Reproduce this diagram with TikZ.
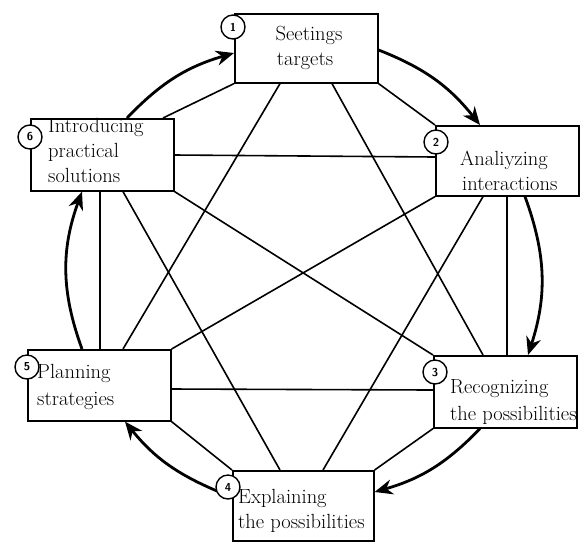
\documentclass[tikz,border=0pt]{standalone}
\usetikzlibrary{arrows.meta}
\begin{document}
\begin{tikzpicture}[x=1pt,y=-1pt,
 box/.style={draw, line width=1.6pt, fill=white, inner sep=0pt, anchor=north west},
 lbl/.style={inner sep=0pt, anchor=base west, font=\fontsize{20.5}{25}\selectfont},
 lblc/.style={lbl, anchor=base},
 conn/.style={line width=1.6pt},
 flow/.style={line width=2.8pt, -{Stealth[length=18pt,width=15pt]}},
 num/.style={circle, draw, line width=1.4pt, fill=white, minimum size=24pt, inner sep=0pt, font=\sffamily\bfseries\fontsize{11.5}{11.5}\selectfont}]
\useasboundingbox (0,0) rectangle (588,542);

% boxes
\node[box, minimum width=143pt, minimum height=69pt] (b1) at (234,13) {};
\node[box, minimum width=143pt, minimum height=70pt] (b2) at (435,125) {};
\node[box, minimum width=143pt, minimum height=72pt] (b3) at (433,355) {};
\node[box, minimum width=141pt, minimum height=70pt] (b4) at (232,470) {};
\node[box, minimum width=143pt, minimum height=71pt] (b5) at (27,349) {};
\node[box, minimum width=143pt, minimum height=72pt] (b6) at (30,118) {};

% start of the 4 -> 5 arrow, on the rim of circle 4
\coordinate (p4) at (217,491);

% connectors
\draw[conn] (b1.south west) -- ([xshift=133pt]b6.north west);
\draw[conn] ([xshift=46pt]b1.south west) -- ([xshift=96pt]b5.north west);
\draw[conn] ([xshift=98pt]b1.south west) -- ([xshift=50pt]b3.north west);
\draw[conn] (b1.south east) -- (b2.north west);
\draw[conn] ([yshift=-37pt]b6.north east) -- ([yshift=-32pt]b2.north west);
\draw[conn] ([xshift=72pt]b2.south west) -- ([xshift=74pt]b3.north west);
\draw[conn] ([xshift=48pt]b2.south west) -- ([xshift=91pt]b4.north west);
\draw[conn] (b2.south west) -- (b5.north east);
\draw[conn] (b6.south east) -- (b3.north west);
\draw[conn] ([yshift=-40pt]b5.north east) -- ([yshift=-35pt]b3.north west);
\draw[conn] (b3.south west) -- (b4.north east);
\draw[conn] (b5.south east) -- (b4.north west);
\draw[conn] ([xshift=93pt]b6.south west) -- ([xshift=48pt]b4.north west);
\draw[conn] ([xshift=70pt]b6.south west) -- ([xshift=73pt]b5.north west);

% flow arrows
\draw[flow] ([xshift=97pt]b6.north west) to[bend left=15] ([yshift=-40pt]b1.north west);
\draw[flow] ([yshift=-37pt]b1.north east) to[bend left=15] ([xshift=45pt]b2.north west);
\draw[flow] ([xshift=90pt]b2.south west) to[bend left=19] ([xshift=95pt]b3.north west);
\draw[flow] ([xshift=47pt]b3.south west) to[bend left=15] ([yshift=-22pt]b4.north east);
\draw[flow] (p4) to[bend left=14] ([xshift=98pt]b5.south west);
\draw[flow] ([xshift=55pt]b5.north west) to[bend left=20] ([xshift=52pt]b6.south west);

% numbered circles
\node[num] (c1) at (233,27) {1};
\node[num] (c2) at (436,142) {2};
\node[num] (c3) at (435,372) {3};
\node[num] (c4) at (228,487) {4};
\node[num] (c5) at (27,367) {5};
\node[num] (c6) at (30,137) {6};

% texts
\node[lblc] (t1a) at (309,40) {Seetings};
\node[lblc] (t1b) at (305,65) {targets};
\node[lbl] (t2a) at (460,165) {Analiyzing};
\node[lbl] (t2b) at (462,190) {interactions};
\node[lbl] (t3a) at (450,393) {Recognizing};
\node[lbl] (t3b) at (450,420) {the possibilities};
\node[lbl] (t4a) at (238,503) {Explaining};
\node[lbl] (t4b) at (238,528) {the possibilities};
\node[lbl] (t5a) at (37,378) {Planning};
\node[lbl] (t5b) at (37,405) {strategies};
\node[lbl] (t6a) at (48,132) {Introducing};
\node[lbl] (t6b) at (48,157) {practical};
\node[lbl] (t6c) at (48,182) {solutions};
\end{tikzpicture}
\end{document}
